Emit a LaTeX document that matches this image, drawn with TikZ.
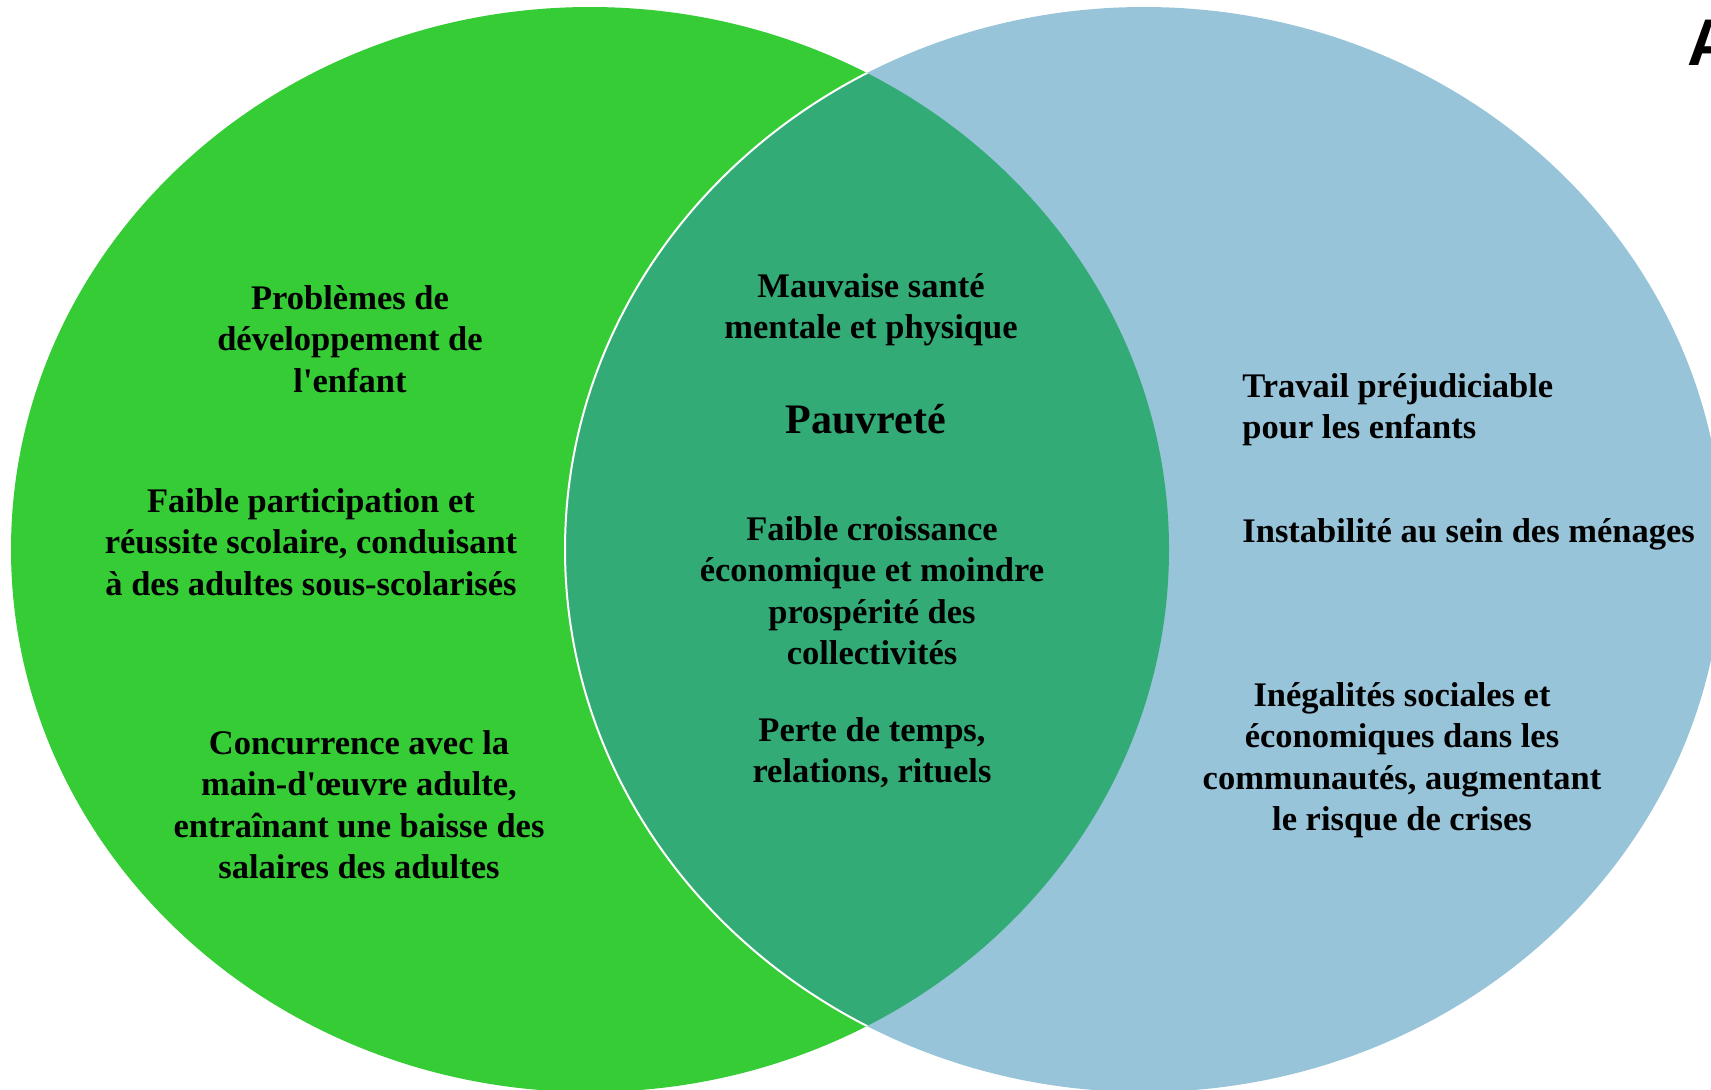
\documentclass[tikz,border=0pt]{standalone}
\usepackage{fontspec}
\setmainfont{Liberation Serif}
\newfontfamily\cornerfont{Liberation Sans}

\definecolor{vennGreen}{RGB}{54,204,54}
\definecolor{vennBlue}{RGB}{152,196,217}
\definecolor{vennLens}{RGB}{51,171,118}

\begin{document}
\begin{tikzpicture}[x=0.5pt,y=0.5pt,yscale=-1,xscale=1,
	item/.style={anchor=base,inner sep=0pt,align=center,font=\fontsize{17.25}{20.75}\selectfont\bfseries},
	itemleft/.style={item,anchor=base west,align=left}]
		\useasboundingbox (0,0) rectangle (1711,1089);
		
		%Shape: Ellipse [id:left]
		\fill [vennGreen] (590,549.5) ellipse (579 and 542.5);
		%Shape: Ellipse [id:right]
		\fill [vennBlue] (1144,549.5) ellipse (579 and 542.5);
		%Shape: Lens
		\begin{scope}
			\clip (590,549.5) ellipse (579 and 542.5);
			\draw [color=white,line width=1pt,fill=vennLens] (1144,549.5) ellipse (579 and 542.5);
		\end{scope}
		
		% Text Node (anchored at the baseline of the last line)
		\node [item] (dev) at (350,392) {Problèmes de\\développement de\\l\textquotesingle enfant};
		% Text Node
		\node [item] (school) at (311,595) {Faible participation et\\réussite scolaire, conduisant\\à des adultes sous-scolarisés};
		% Text Node
		\node [item] (wage) at (359,878.5) {Concurrence avec la\\main-d\textquotesingle œuvre adulte,\\entraînant une baisse des\\salaires des adultes};
		% Text Node
		\node [item] (health) at (871,338.5) {Mauvaise santé\\mentale et physique};
		% Text Node
		\node [item,font=\fontsize{21}{25}\selectfont\bfseries] (poverty) at (866,433) {Pauvreté};
		% Text Node
		\node [item] (growth) at (872,664.5) {Faible croissance\\économique et moindre\\prospérité des\\collectivités};
		% Text Node
		\node [item] (time) at (872,782.5) {Perte de temps,\\relations, rituels};
		% Text Node
		\node [itemleft] (work) at (1242,438.5) {Travail préjudiciable\\pour les enfants};
		% Text Node
		\node [itemleft] (home) at (1242,542) {Instabilité au sein des ménages};
		% Text Node
		\node [item] (unequal) at (1402,830.5) {Inégalités sociales et\\économiques dans les\\communautés, augmentant\\le risque de crises};
		% Text Node
		\node [anchor=base west,inner sep=0pt,font=\cornerfont\fontsize{33}{38}\selectfont\bfseries] (corner) at (1687,65) {A};
\end{tikzpicture}
\end{document}
